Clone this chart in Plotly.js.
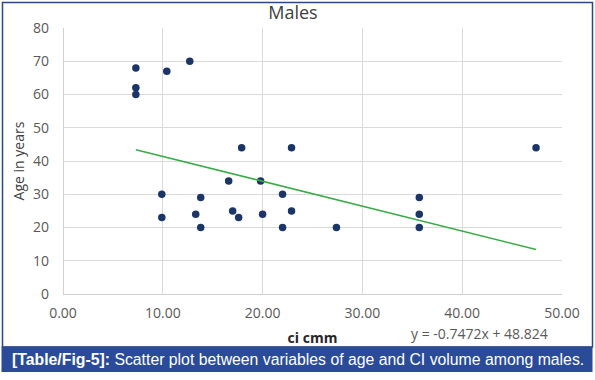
<!DOCTYPE html>
<html>
<head>
<meta charset="utf-8">
<script src="https://cdn.plot.ly/plotly-3.0.1.min.js"></script>
<style>html,body{margin:0;padding:0;background:#fff;}#chart{width:595px;height:380px;}</style>
</head>
<body>
<div id="chart"></div>
<script>
// Data
const ciCmm = [7.3, 7.3, 7.3, 10.4, 12.7, 17.9, 22.9, 16.6, 19.8, 47.4,
               9.9, 9.9, 13.3, 13.8, 13.8, 17.0, 17.6, 20.0, 22.0, 22.0, 22.9,
               27.4, 35.7, 35.7, 35.7];
const ageYears = [68, 62, 60, 67, 70, 44, 44, 34, 34, 44,
                  30, 23, 24, 29, 20, 25, 23, 24, 30, 20, 25,
                  20, 29, 24, 20];
const trendX = [7.3, 47.4];
const trendY = [43.4, 13.4];
const xTickVals = [0, 10, 20, 30, 40, 50];
const xTickText = ["0.00", "10.00", "20.00", "30.00", "40.00", "50.00"];
const yTickVals = [0, 10, 20, 30, 40, 50, 60, 70, 80];
const chartTitle = "Males";
const xTitle = "ci cmm";
const yTitle = "Age in years";
const equationText = "y = -0.7472x + 48.824";
const captionBold = "[Table/Fig-5]:";
const captionRest = " Scatter plot between variables of age and CI volume among males.";

const W = 595, H = 380;
const M = {l: 63, r: 33, t: 28, b: 86};
const pw = W - M.l - M.r, ph = H - M.t - M.b;
const px = x => (x - M.l) / pw;
const py = y => (H - M.b - y) / ph;

const tickFont = {family: "Open Sans, sans-serif", size: 14, color: "#595959"};

const traces = [
  {
    x: ciCmm, y: ageYears, type: "scatter", mode: "markers",
    marker: {color: "#1b3568", size: 7.5},
    hoverinfo: "x+y", showlegend: false
  },
  {
    x: trendX, y: trendY, type: "scatter", mode: "lines",
    line: {color: "#3aab48", width: 1.6},
    hoverinfo: "skip", showlegend: false
  }
];

const layout = {
  width: W, height: H,
  margin: {l: M.l, r: M.r, t: M.t, b: M.b, pad: 0},
  paper_bgcolor: "#ffffff", plot_bgcolor: "#ffffff",
  showlegend: false,
  title: {
    text: chartTitle,
    font: {family: "Open Sans, sans-serif", size: 18, color: "#404040"},
    x: px(293), xanchor: "center", xref: "paper",
    y: 1 - 13 / H, yanchor: "middle", yref: "container"
  },
  xaxis: {
    range: [0, 50], tickvals: xTickVals, ticktext: xTickText,
    showgrid: true, gridcolor: "#dadada", gridwidth: 1,
    zeroline: true, zerolinecolor: "#d0d0d0", zerolinewidth: 1,
    showline: false, ticks: "", ticklabelstandoff: 9,
    tickfont: tickFont, fixedrange: true,
    title: {text: "<b>" + xTitle + "</b>", font: {family: "Open Sans, sans-serif", size: 14, color: "#262626"}, standoff: 12}
  },
  yaxis: {
    range: [0, 80], tickvals: yTickVals,
    showgrid: true, gridcolor: "#dadada", gridwidth: 1,
    zeroline: true, zerolinecolor: "#d0d0d0", zerolinewidth: 1,
    showline: false, ticks: "", ticklabelstandoff: 13,
    tickfont: tickFont, fixedrange: true,
    title: {text: yTitle, font: {family: "Open Sans, sans-serif", size: 14, color: "#404040"}, standoff: 5}
  },
  shapes: [
    {type: "rect", xref: "paper", yref: "paper",
     x0: px(2.5), x1: px(592.5), y0: py(2.5), y1: py(347),
     line: {color: "#2b4a7e", width: 1.5}, fillcolor: "rgba(0,0,0,0)", layer: "below"},
    {type: "rect", xref: "paper", yref: "paper",
     x0: px(1.5), x1: px(592.5), y0: py(346.5), y1: py(372),
     line: {width: 0}, fillcolor: "#2a4c98", layer: "above"}
  ],
  annotations: [
    {text: equationText, xref: "paper", yref: "paper",
     x: px(479), y: py(333), xanchor: "center", yanchor: "middle",
     showarrow: false, font: {family: "Open Sans, sans-serif", size: 14, color: "#595959"}},
    {text: "<b>" + captionBold + "</b>" + captionRest, xref: "paper", yref: "paper",
     x: px(10), y: py(359.5), xanchor: "left", yanchor: "middle",
     showarrow: false, font: {family: "Liberation Sans, Arial, sans-serif", size: 15.8, color: "#ffffff"}}
  ]
};

Plotly.newPlot("chart", traces, layout, {displayModeBar: false, staticPlot: true});
</script>
</body>
</html>
